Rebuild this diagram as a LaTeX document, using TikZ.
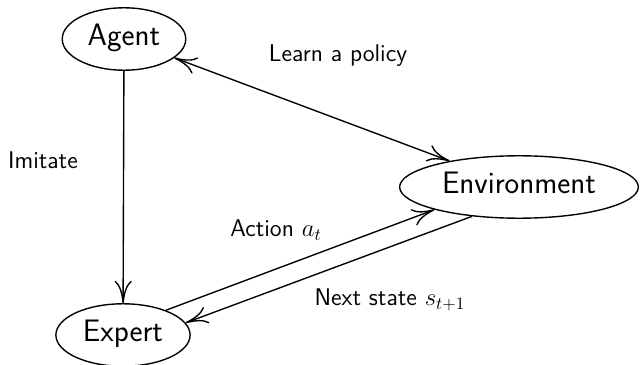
\documentclass[tikz,border=0pt]{standalone}
\usepackage{fontspec}
\usetikzlibrary{arrows.meta,shapes.geometric}
\begin{document}
\begin{tikzpicture}[x=0.58pt,y=-0.58pt,
  >={To[length=13pt,width=10pt]},
  line width=0.8pt,
  blob/.style={ellipse,draw,line width=0.8pt,inner sep=4.3pt,
    text height=12.5pt,text depth=4.5pt,
    font=\sffamily\fontsize{18}{22}\selectfont},
  lbl/.style={font=\sffamily\fontsize{14}{17}\selectfont,inner sep=0pt},
  conn/.style={->}]
\useasboundingbox (0,0) rectangle (644,365);
\node[blob] (agent) at (124,39) {Agent};
\node[blob] (expert) at (123,335) {Expert};
\node[blob] (env) at (519,187) {Environment};
\draw[conn] (agent) -- (expert);
\draw[<->] (agent) -- (env);
\draw[conn] (expert.30) -- (env.195);
\draw[conn] (env.212) -- (expert.11);
\node[lbl] (l1) at (338,56) {Learn a policy};
\node[lbl] (l2) at (43,160) {Imitate};
\node[lbl] (l3) at (276,230) {Action $a_t$};
\node[lbl] (l4) at (390,300) {Next state $s_{t+1}$};
\end{tikzpicture}
\end{document}
